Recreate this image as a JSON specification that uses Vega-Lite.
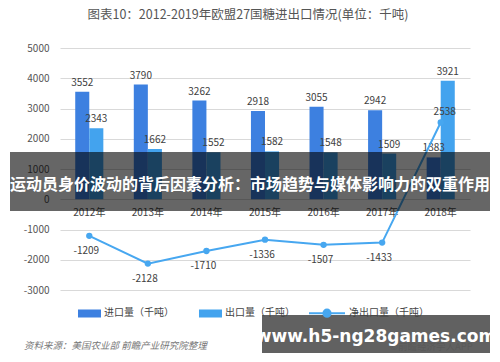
{
  "$schema": "https://vega.github.io/schema/vega-lite/v6.json",
  "autosize": {"type": "none"},
  "width": 410,
  "height": 242,
  "padding": {"left": 60, "top": 48, "right": 30, "bottom": 72},
  "background": "white",
  "config": {
    "font": "Noto Sans CJK SC",
    "view": {"stroke": null},
    "axis": {"labelOverlap": false},
    "axisY": {"labelOverlap": false},
    "axisLeft": {"labelOverlap": false},
    "axisQuantitative": {"labelOverlap": false, "tickCount": 9}
  },
  "title": {
    "text": "图表10：2012-2019年欧盟27国糖进出口情况(单位：千吨)",
    "fontSize": 12.5,
    "fontWeight": "normal",
    "color": "#555555",
    "anchor": "middle",
    "dx": -17,
    "offset": 22
  },
  "datasets": {
    "bars": [
      {"year": "2012年", "type": "进口量（千吨）", "value": 3552},
      {"year": "2012年", "type": "出口量（千吨）", "value": 2343},
      {"year": "2013年", "type": "进口量（千吨）", "value": 3790},
      {"year": "2013年", "type": "出口量（千吨）", "value": 1662},
      {"year": "2014年", "type": "进口量（千吨）", "value": 3262},
      {"year": "2014年", "type": "出口量（千吨）", "value": 1552},
      {"year": "2015年", "type": "进口量（千吨）", "value": 2918},
      {"year": "2015年", "type": "出口量（千吨）", "value": 1582},
      {"year": "2016年", "type": "进口量（千吨）", "value": 3055},
      {"year": "2016年", "type": "出口量（千吨）", "value": 1548},
      {"year": "2017年", "type": "进口量（千吨）", "value": 2942},
      {"year": "2017年", "type": "出口量（千吨）", "value": 1509},
      {"year": "2018年", "type": "进口量（千吨）", "value": 1383},
      {"year": "2018年", "type": "出口量（千吨）", "value": 3921}
    ],
    "net": [
      {"year": "2012年", "net": -1209},
      {"year": "2013年", "net": -2128},
      {"year": "2014年", "net": -1710},
      {"year": "2015年", "net": -1336},
      {"year": "2016年", "net": -1507},
      {"year": "2017年", "net": -1433},
      {"year": "2018年", "net": 2538}
    ]
  },
  "encoding": {
    "x": {
      "field": "year",
      "type": "nominal",
      "sort": null,
      "scale": {"paddingInner": 0.52, "paddingOuter": 0.26},
      "axis": {
        "title": null,
        "labelAngle": 0,
        "domain": false,
        "ticks": false,
        "offset": -91,
        "labelPadding": 8,
        "labelFontSize": 10,
        "labelColor": "#444444"
      }
    }
  },
  "layer": [
    {
      "data": {"name": "bars"},
      "mark": {"type": "bar"},
      "encoding": {
        "xOffset": {"field": "type", "type": "nominal", "sort": ["进口量（千吨）", "出口量（千吨）"]},
        "y": {
          "field": "value",
          "type": "quantitative",
          "scale": {"domain": [-3000, 5000], "nice": false},
          "axis": {
            "title": null,
            "values": [-3000, -2000, -1000, 0, 1000, 2000, 3000, 4000, 5000],
            "tickCount": 9,
            "labelExpr": "'' + datum.value",
            "labelOverlap": false,
            "domain": false,
            "ticks": false,
            "labelPadding": 11,
            "labelFontSize": 10,
            "labelColor": "#555555",
            "gridColor": "#d9d9d9",
            "gridWidth": 1
          }
        },
        "color": {
          "field": "type",
          "type": "nominal",
          "scale": {
            "domain": ["进口量（千吨）", "出口量（千吨）", "净出口量（千吨）"],
            "range": ["#3d80e0", "#43a3ee", "#47a7f0"]
          },
          "legend": {
            "title": null,
            "orient": "none",
            "direction": "horizontal",
            "legendX": 3,
            "legendY": 246,
            "padding": 0,
            "columnPadding": 10,
            "labelFontSize": 10,
            "labelColor": "#444444",
            "labelOffset": 3,
            "symbolSize": 1296,
            "symbolStrokeWidth": 2,
            "symbolType": "M-0.167,-0.167H1V0.167H-0.167Z",
            "encode": {
              "symbols": {
                "update": {
                  "shape": {"signal": "datum.value === '净出口量（千吨）' ? 'M-1,0H1M0.2,0A0.2,0.2 0 1 1 -0.2,0A0.2,0.2 0 1 1 0.2,0Z' : 'M-0.167,-0.167H1V0.167H-0.167Z'"},
                  "opacity": {"value": 1}
                }
              }
            }
          }
        }
      }
    },
    {
      "data": {"name": "bars"},
      "mark": {"type": "text", "dy": -9, "fontSize": 10, "color": "#404040"},
      "encoding": {
        "xOffset": {"field": "type", "type": "nominal", "sort": ["进口量（千吨）", "出口量（千吨）"]},
        "y": {"field": "value", "type": "quantitative"},
        "text": {"field": "value", "type": "nominal"}
      }
    },
    {
      "data": {"name": "net"},
      "mark": {"type": "line", "strokeWidth": 2, "point": {"filled": true, "size": 40}},
      "encoding": {
        "y": {"field": "net", "type": "quantitative"},
        "color": {"datum": "净出口量（千吨）"}
      }
    },
    {
      "data": {"name": "net"},
      "transform": [{"filter": "datum.net < 0"}],
      "mark": {"type": "text", "dy": 15, "dx": -3, "fontSize": 10, "color": "#404040"},
      "encoding": {
        "y": {"field": "net", "type": "quantitative"},
        "text": {"field": "net", "type": "nominal"}
      }
    },
    {
      "data": {"name": "net"},
      "transform": [{"filter": "datum.net > 0"}],
      "mark": {"type": "text", "dy": -10, "dx": 4, "fontSize": 10, "color": "#404040"},
      "encoding": {
        "y": {"field": "net", "type": "quantitative"},
        "text": {"field": "net", "type": "nominal"}
      }
    },
    {
      "data": {"values": [{"src": "资料来源：美国农业部 前瞻产业研究院整理", "app": "©前瞻经济学人APP"}]},
      "layer": [
        {
          "mark": {"type": "text", "align": "left", "baseline": "middle", "fontSize": 9.5, "fontStyle": "italic", "color": "#777777"},
          "encoding": {
            "x": {"value": -36},
            "y": {"datum": -4852},
            "text": {"field": "src"}
          }
        },
        {
          "mark": {"type": "text", "align": "left", "baseline": "middle", "fontSize": 9.5, "color": "#888888"},
          "encoding": {
            "x": {"value": 330},
            "y": {"datum": -4880},
            "text": {"field": "app"}
          }
        }
      ]
    },
    {
      "data": {"values": [{"banner": "运动员身价波动的背后因素分析：市场趋势与媒体影响力的双重作用", "site": "www.h5-ng28games.com"}]},
      "layer": [
        {
          "mark": {"type": "rect", "color": "#000000", "opacity": 0.6},
          "encoding": {
            "x": {"value": -50},
            "x2": {"value": 430},
            "y": {"datum": 1562},
            "y2": {"datum": -388}
          }
        },
        {
          "mark": {"type": "text", "align": "center", "baseline": "middle", "fontSize": 16, "fontWeight": "bold", "color": "#ffffff"},
          "encoding": {
            "x": {"value": 190},
            "y": {"datum": 471},
            "text": {"field": "banner"}
          }
        },
        {
          "mark": {"type": "rect", "color": "#555555", "opacity": 0.93},
          "encoding": {
            "x": {"value": 202},
            "x2": {"value": 430},
            "y": {"datum": -3826},
            "y2": {"datum": -5083}
          }
        },
        {
          "mark": {"type": "text", "align": "center", "baseline": "middle", "fontSize": 17, "fontWeight": "bold", "color": "#ffffff", "font": "DejaVu Sans"},
          "encoding": {
            "x": {"value": 316},
            "y": {"datum": -4554},
            "text": {"field": "site"}
          }
        }
      ]
    }
  ]
}
